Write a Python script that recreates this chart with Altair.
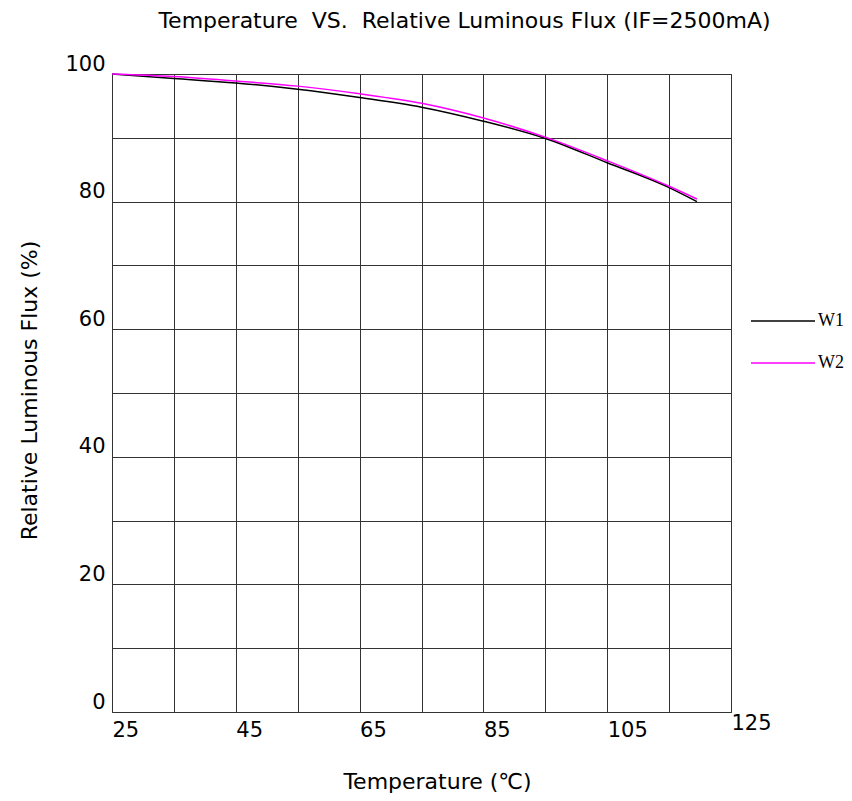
import altair as alt
import pandas as pd

# ---- data ----
temperature = [25, 35, 45, 55, 65, 75, 85, 95, 105, 115, 119.5]
w1_flux = [100, 99.3, 98.6, 97.6, 96.3, 94.8, 92.6, 89.9, 86.1, 82.2, 80.0]
w2_flux = [100, 99.6, 98.9, 98.1, 96.9, 95.4, 93.1, 90.1, 86.4, 82.4, 80.4]
series_names = ["W1", "W2"]
series_colors = ["#000000", "#ff00ff"]
x_grid_values = [25, 35, 45, 55, 65, 75, 85, 95, 105, 115, 125]
x_label_values = [25, 45, 65, 85, 105, 125]
y_grid_values = [0, 10, 20, 30, 40, 50, 60, 70, 80, 90, 100]
y_label_values = [0, 20, 40, 60, 80, 100]

rows = []
for t, a, b in zip(temperature, w1_flux, w2_flux):
    rows.append({"T": t, "flux": a, "series": series_names[0]})
    rows.append({"T": t, "flux": b, "series": series_names[1]})
df = pd.DataFrame(rows)

FONT = "DejaVu Sans"

title = alt.TitleParams(
    "Temperature\u00a0\u00a0VS.\u00a0\u00a0Relative Luminous Flux (IF=2500mA)",
    font=FONT, fontSize=22, fontWeight="normal", color="black",
    anchor="middle", frame="group", dx=43, offset=20,
)

x_lab_expr = "indexof([" + ",".join(str(v) for v in x_label_values) + "], datum.value) >= 0 ? datum.label : ''"
y_lab_expr = "indexof([" + ",".join(str(v) for v in y_label_values) + "], datum.value) >= 0 ? datum.label : ''"

chart = alt.Chart(df, title=title).mark_line(strokeWidth=1.5, interpolate="monotone").encode(
    x=alt.X(
        "T:Q",
        scale=alt.Scale(domain=[25, 125], nice=False, zero=False),
        axis=alt.Axis(
            values=x_grid_values, labelExpr=x_lab_expr,
            domain=False, ticks=False, grid=True, gridColor="#333333", gridWidth=1,
            labelAlign="left", labelBaseline="top", labelFlush=False, labelOverlap=False,
            labelPadding={"condition": {"test": "datum.value == 125", "value": 0}, "value": 7},
            labelFont=FONT, labelFontSize=21, labelColor="black",
            title="Temperature (℃)", titleFont=FONT, titleFontSize=22, titleFontWeight="normal",
            titleColor="black", titleX=325, titleY=76, titleAlign="center", titleBaseline="alphabetic",
        ),
    ),
    y=alt.Y(
        "flux:Q",
        scale=alt.Scale(domain=[0, 100], nice=False, zero=True),
        axis=alt.Axis(
            values=y_grid_values, labelExpr=y_lab_expr,
            domain=False, ticks=False, grid=True, gridColor="#333333", gridWidth=1,
            labelAlign="right", labelBaseline="bottom", labelPadding=7, labelFlush=False, labelOverlap=False,
            labelFont=FONT, labelFontSize=21, labelColor="black",
            title="Relative Luminous Flux (%)", titleFont=FONT, titleFontSize=22, titleFontWeight="normal",
            titleColor="black", titleAngle=270, titleX=-76, titleY=316, titleAlign="center",
            titleBaseline="alphabetic",
        ),
    ),
    color=alt.Color(
        "series:N",
        scale=alt.Scale(domain=series_names, range=series_colors),
        legend=alt.Legend(
            title=None, orient="none", legendX=638, legendY=214,
            symbolType="stroke", symbolSize=4096, symbolStrokeWidth=1.5,
            labelFont="Liberation Serif", labelFontSize=18, labelColor="black", labelOffset=2,
            rowPadding=-21, padding=0, symbolOffset=0,
        ),
    ),
).properties(
    width=619, height=638,
    autosize=alt.AutoSizeParams(type="none"),
    padding={"left": 104, "top": 66, "right": 113, "bottom": 81},
).configure_view(stroke="#333333", strokeWidth=1)

chart.save("out.html", embed_options={"renderer": "svg", "actions": False})
